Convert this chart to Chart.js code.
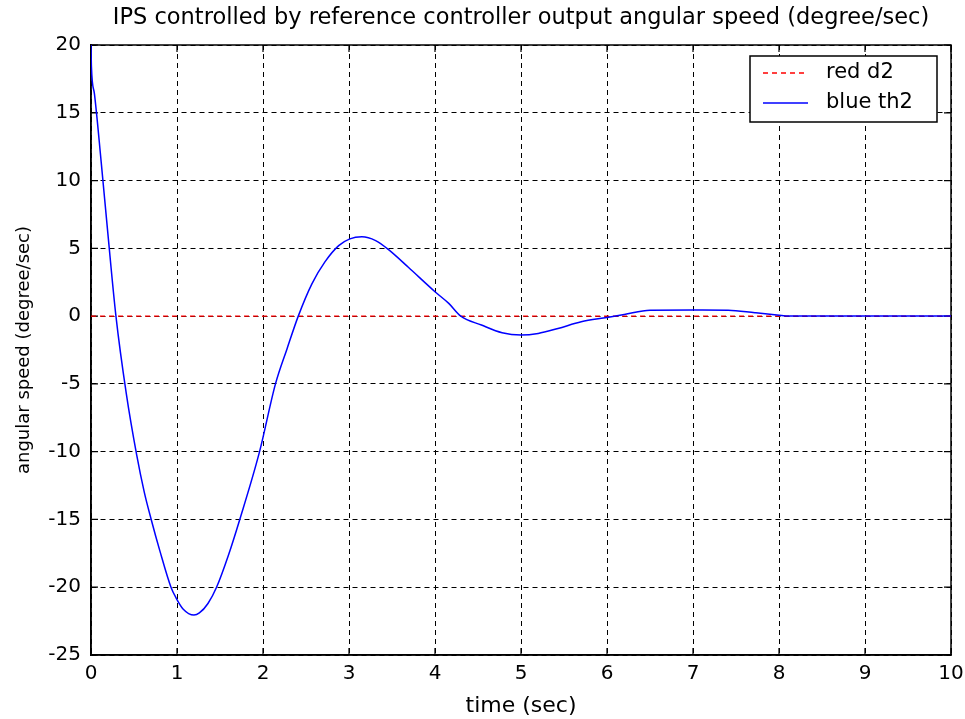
<!DOCTYPE html>
<html>
<head>
<meta charset="utf-8">
<script src="https://cdn.jsdelivr.net/npm/chart.js@4.4.1/dist/chart.umd.min.js"></script>
<style>
  html, body { margin: 0; padding: 0; background: #fff; }
  #wrap { width: 965px; height: 719px; }
</style>
</head>
<body>
<div id="wrap"><canvas id="ipsChart" width="965" height="719"></canvas></div>
<script>
// time axis samples (sec) and blue th2 response (degree/sec)
var timeSec = [0, 0.005, 0.04, 0.118, 0.196, 0.29, 0.41, 0.53, 0.62, 0.70, 0.80,
               0.93, 0.99, 1.07, 1.197, 1.26, 1.36, 1.46, 1.60, 1.73, 1.96,
               2.145, 2.28, 2.41, 2.57, 2.72, 2.88, 3.01, 3.15, 3.31, 3.46,
               3.69, 4.0, 4.16, 4.30, 4.54, 4.78, 5.0, 5.2, 5.43, 5.7,
               6.0, 6.2, 6.5, 7.0, 7.41, 7.72, 8.03, 8.1, 10];
var th2Deg  = [20, 18.4, 16.4, 11.4, 6.1, 0, -5.7, -10.2, -13, -15, -17.3,
               -20, -20.8, -21.6, -22.05, -21.9, -21.2, -20, -17.6, -15, -10,
               -5, -2.4, 0, 2.4, 4.0, 5.2, 5.7, 5.85, 5.57, 4.9,
               3.6, 1.8, 0.94, 0, -0.66, -1.23, -1.4, -1.28, -0.91, -0.42,
               -0.1, 0.12, 0.44, 0.45, 0.44, 0.25, 0.05, 0, 0];
// red d2 reference
var d2Time = [0, 10];
var d2Deg  = [0, 0];

var xTickValues = [0, 1, 2, 3, 4, 5, 6, 7, 8, 9, 10];
var yTickValues = [-25, -20, -15, -10, -5, 0, 5, 10, 15, 20];
var seriesLabels = ['red d2', 'blue th2'];

var FONT = 'DejaVu Sans';

function toPoints(xs, ys) {
  var pts = [];
  for (var i = 0; i < xs.length; i++) pts.push({x: xs[i], y: ys[i]});
  return pts;
}

// box round the axes with small inward ticks, like matlab
var boxPlugin = {
  id: 'axesBox',
  beforeDatasetsDraw: function (chart) {
    var ctx = chart.ctx, a = chart.chartArea;
    var xs = chart.scales.x, ys = chart.scales.y;
    ctx.save();
    ctx.strokeStyle = '#000';
    ctx.lineWidth = 1.5;
    ctx.strokeRect(a.left, a.top, a.right - a.left, a.bottom - a.top);
    ctx.lineWidth = 1.2;
    ctx.beginPath();
    xTickValues.forEach(function (v) {
      var px = xs.getPixelForValue(v);
      ctx.moveTo(px, a.bottom); ctx.lineTo(px, a.bottom - 7);
      ctx.moveTo(px, a.top); ctx.lineTo(px, a.top + 7);
    });
    yTickValues.forEach(function (v) {
      var py = ys.getPixelForValue(v);
      ctx.moveTo(a.left, py); ctx.lineTo(a.left + 7, py);
      ctx.moveTo(a.right, py); ctx.lineTo(a.right - 7, py);
    });
    ctx.stroke();
    ctx.restore();
  }
};

// legend drawn inside the axes, top right, with a border
var boxLegend = {
  id: 'boxLegend',
  afterDraw: function (chart) {
    var ctx = chart.ctx, a = chart.chartArea;
    var w = 187, h = 66;
    var x0 = a.right - 14 - w, y0 = a.top + 11;
    ctx.save();
    ctx.fillStyle = '#fff';
    ctx.fillRect(x0, y0, w, h);
    ctx.strokeStyle = '#000';
    ctx.lineWidth = 1.5;
    ctx.strokeRect(x0, y0, w, h);
    ctx.font = '21px "' + FONT + '"';
    ctx.textBaseline = 'middle';
    chart.data.datasets.forEach(function (ds, i) {
      var ly = y0 + 17 + i * 30;
      ctx.strokeStyle = ds.borderColor;
      ctx.lineWidth = ds.borderWidth;
      ctx.setLineDash(ds.borderDash || []);
      ctx.beginPath();
      ctx.moveTo(x0 + 13, ly);
      ctx.lineTo(x0 + 58, ly);
      ctx.stroke();
      ctx.setLineDash([]);
      ctx.fillStyle = '#000';
      ctx.fillText(ds.label, x0 + 76, ly);
    });
    ctx.restore();
  }
};

var ctx = document.getElementById('ipsChart').getContext('2d');
new Chart(ctx, {
  type: 'line',
  data: {
    datasets: [
      {
        label: seriesLabels[0],
        data: toPoints(d2Time, d2Deg),
        borderColor: '#ff0000',
        borderWidth: 1.3,
        borderDash: [5, 4],
        pointRadius: 0,
        tension: 0,
        order: 1
      },
      {
        label: seriesLabels[1],
        data: toPoints(timeSec, th2Deg),
        borderColor: '#0000ff',
        borderWidth: 1.5,
        pointRadius: 0,
        cubicInterpolationMode: 'monotone',
        order: 0
      }
    ]
  },
  options: {
    responsive: false,
    animation: false,
    devicePixelRatio: 1,
    layout: { padding: { left: 0, right: 14, top: 0, bottom: 0 } },
    plugins: {
      legend: { display: false },
      tooltip: { enabled: false },
      title: {
        display: true,
        fullSize: false,
        text: 'IPS controlled by reference controller output angular speed (degree/sec)',
        color: '#000',
        font: { family: FONT, size: 22.5, weight: 'normal', lineHeight: 1.2 },
        padding: { top: 4.5, bottom: 13.5 }
      }
    },
    scales: {
      x: {
        type: 'linear',
        min: 0,
        max: 10,
        afterBuildTicks: function (s) { s.ticks = xTickValues.map(function (v) { return {value: v}; }); },
        afterFit: function (s) { s.height = 64; s.paddingLeft = 0; s.paddingRight = 0; },
        ticks: { color: '#000', font: { family: FONT, size: 20 }, padding: 7, maxRotation: 0, autoSkip: false },
        grid: { color: '#000', lineWidth: 1, drawTicks: false },
        border: { display: true, color: '#000', width: 1.5, dash: [5, 4] },
        title: {
          display: true,
          text: 'time (sec)',
          color: '#000',
          font: { family: FONT, size: 22, lineHeight: 1.2 },
          padding: { top: 2.8, bottom: 0 }
        }
      },
      y: {
        type: 'linear',
        min: -25,
        max: 20,
        afterBuildTicks: function (s) { s.ticks = yTickValues.map(function (v) { return {value: v}; }); },
        afterFit: function (s) { s.width = 91; },
        ticks: { color: '#000', font: { family: FONT, size: 20 }, padding: 10, autoSkip: false },
        grid: { color: '#000', lineWidth: 1, drawTicks: false },
        border: { display: true, color: '#000', width: 1.5, dash: [5, 4] },
        title: {
          display: true,
          text: 'angular speed (degree/sec)',
          color: '#000',
          font: { family: FONT, size: 18, lineHeight: 1.2 },
          padding: { top: 14, bottom: 0 }
        }
      }
    }
  },
  plugins: [boxPlugin, boxLegend]
});
</script>
</body>
</html>
